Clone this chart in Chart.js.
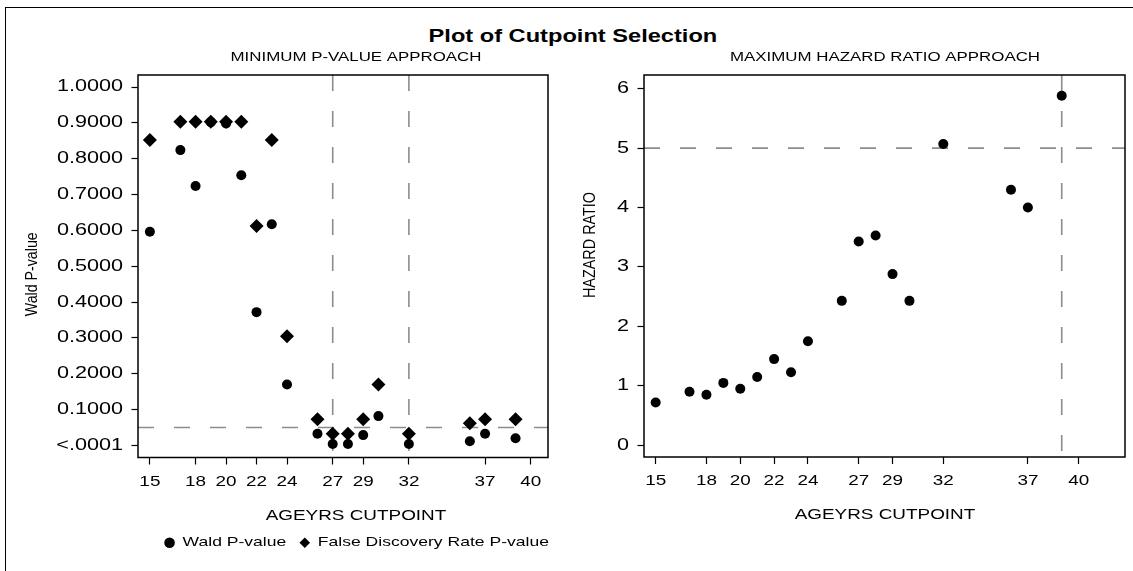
<!DOCTYPE html>
<html>
<head>
<meta charset="utf-8">
<script src="https://cdn.jsdelivr.net/npm/chart.js@4.4.0/dist/chart.umd.min.js"></script>
<style>
  html, body { margin:0; padding:0; background:#fff; overflow:hidden; width:1133px; height:571px; }
  #outer { position:absolute; left:5px; top:7px; width:1300px; height:700px; border-left:1px solid #000; border-top:1px solid #000; }
  #title { position:absolute; left:6px; top:27px; width:1133px; text-align:center; font:bold 17.5px "Liberation Sans", Arial, sans-serif; line-height:19px; color:#000; }
  #title span { display:inline-block; transform:scaleX(1.35); }
  .box { position:absolute; top:0; height:571px; }
</style>
</head>
<body>
<div id="outer"></div>
<div id="title"><span>Plot of Cutpoint Selection</span></div>
<div class="box" style="left:0px;width:712px"><canvas id="leftChart"></canvas></div>
<div class="box" style="left:580px;width:610px"><canvas id="rightChart"></canvas></div>
<script>
// ---------------- data ----------------
const cutpoints = [15, 17, 18, 19, 20, 21, 22, 23, 24, 26, 27, 28, 29, 30, 32, 36, 37, 39];
const waldP     = [0.596, 0.824, 0.724, 0.902, 0.898, 0.754, 0.372, 0.617, 0.170, 0.033, 0.004, 0.004, 0.029, 0.082, 0.004, 0.012, 0.033, 0.020];
const fdrP      = [0.852, 0.903, 0.903, 0.903, 0.903, 0.903, 0.612, 0.852, 0.305, 0.0735, 0.033, 0.033, 0.0735, 0.170, 0.033, 0.0623, 0.0735, 0.0735];
const hazardRatio = [0.72, 0.90, 0.85, 1.05, 0.95, 1.15, 1.45, 1.23, 1.75, 2.43, 3.43, 3.53, 2.88, 2.43, 5.07, 4.30, 4.00, 5.88];

const xTickValues = [15, 18, 20, 22, 24, 27, 29, 32, 37, 40];
const leftYTicks = [0, 0.1, 0.2, 0.3, 0.4, 0.5, 0.6, 0.7, 0.8, 0.9, 1.0];
const leftYTickLabels = ['<.0001', '0.1000', '0.2000', '0.3000', '0.4000', '0.5000', '0.6000', '0.7000', '0.8000', '0.9000', '1.0000'];
const rightYTicks = [0, 1, 2, 3, 4, 5, 6];
const rightYTickLabels = ['0', '1', '2', '3', '4', '5', '6'];

const leftRefX = [27, 32];
const leftRefY = [0.05];
const rightRefX = [39];
const rightRefY = [5];

const LX_MIN = 14.22, LX_MAX = 41.13, LY_MIN = -0.0335, LY_MAX = 1.0335;
const RX_MIN = 14.31, RX_MAX = 42.74, RY_MIN = -0.197, RY_MAX = 6.23;

// ---------------- styling helpers ----------------
const FONT = '"Liberation Sans", Arial, sans-serif';
const S = 1.35;           // horizontal text widening, as in the reference rendering
const S_ROT = 1.15;       // widening of rotated text thickness
const REF_COLOR = '#8c8c8c';

function widenText(canvas) {
  const ctx = canvas.getContext('2d');
  const fill = ctx.fillText, measure = ctx.measureText;
  ctx.fillText = function (t, x, y, mw) {
    const m = this.getTransform();
    const rotated = Math.abs(m.b) > 1e-6 || Math.abs(m.c) > 1e-6;
    this.save();
    this.translate(x, y);
    if (rotated) this.scale(1, S_ROT); else this.scale(S, 1);
    if (mw === undefined) fill.call(this, t, 0, 0); else fill.call(this, t, 0, 0, rotated ? mw : mw / S);
    this.restore();
  };
  ctx.measureText = function (t) {
    const m = measure.call(this, t);
    return {
      width: m.width * S,
      actualBoundingBoxLeft: m.actualBoundingBoxLeft * S,
      actualBoundingBoxRight: m.actualBoundingBoxRight * S,
      actualBoundingBoxAscent: m.actualBoundingBoxAscent,
      actualBoundingBoxDescent: m.actualBoundingBoxDescent,
      fontBoundingBoxAscent: m.fontBoundingBoxAscent,
      fontBoundingBoxDescent: m.fontBoundingBoxDescent
    };
  };
  return ctx;
}

const framePlugin = {
  id: 'frame',
  afterDatasetsDraw(chart) {
    const { ctx, chartArea: a } = chart;
    ctx.save();
    ctx.strokeStyle = '#000';
    ctx.lineWidth = 1.5;
    ctx.strokeRect(a.left, a.top, a.right - a.left, a.bottom - a.top);
    ctx.restore();
  }
};

// y-axis title, drawn beside the y scale (offset along the axis as in the reference)
const yTitlePlugin = {
  id: 'yTitle',
  afterDraw(chart, args, opts) {
    const s = chart.scales.y, ctx = chart.ctx;
    ctx.save();
    ctx.font = opts.size + 'px ' + FONT;
    ctx.fillStyle = '#000';
    ctx.textAlign = 'center';
    ctx.textBaseline = 'middle';
    ctx.translate(s.left + opts.x, (s.top + s.bottom) / 2 + opts.dy);
    ctx.rotate(-Math.PI / 2);
    ctx.fillText(opts.text, 0, 0);
    ctx.restore();
  }
};

function refLines(xs, ys, xmin, xmax, ymin, ymax) {
  const base = { type: 'line', label: 'ref', borderColor: REF_COLOR, borderWidth: 1.6, borderDash: [16, 20],
                 pointRadius: 0, pointHoverRadius: 0, showLine: true, fill: false, order: 5 };
  return xs.map(v => Object.assign({}, base, { data: [{ x: v, y: ymax }, { x: v, y: ymin }] }))
    .concat(ys.map(v => Object.assign({}, base, { data: [{ x: xmin, y: v }, { x: xmax, y: v }] })));
}

function xScale(min, max) {
  return {
    type: 'linear', min, max,
    afterBuildTicks: s => { s.ticks = xTickValues.map(v => ({ value: v })); },
    afterFit: s => { s.height = 36; },
    ticks: { font: { family: FONT, size: 14 }, color: '#000', padding: 9, autoSkip: false, maxRotation: 0, minRotation: 0,
             callback: v => String(v) },
    grid: { drawOnChartArea: false, drawTicks: true, tickLength: 7, tickColor: '#000', tickWidth: 1.2 },
    border: { display: false }
  };
}

function yScale(min, max, ticks, labels, width) {
  return {
    type: 'linear', min, max,
    afterBuildTicks: s => { s.ticks = ticks.map(v => ({ value: v })); },
    afterFit: s => { s.width = width; },
    ticks: { font: { family: FONT, size: 16 }, color: '#000', padding: 8.5, callback: (v, i) => labels[i] },
    grid: { drawOnChartArea: false, drawTicks: true, tickLength: 6.5, tickColor: '#000', tickWidth: 1.2 },
    border: { display: false },
    title: { display: false }
  };
}

function spacer(width) {
  return { type: 'linear', position: 'right', display: true, afterFit: s => { s.width = width; },
           ticks: { display: false }, grid: { display: false }, border: { display: false } };
}

// ---------------- left chart ----------------
new Chart(widenText(document.getElementById('leftChart')), {
  type: 'scatter',
  data: {
    datasets: [
      { label: 'Wald P-value', data: cutpoints.map((c, i) => ({ x: c, y: waldP[i] })),
        pointStyle: 'circle', pointRadius: 5, pointHoverRadius: 5, backgroundColor: '#000', borderColor: '#000', borderWidth: 0, order: 2 },
      { label: 'False Discovery Rate P-value', data: cutpoints.map((c, i) => ({ x: c, y: fdrP[i] })),
        pointStyle: 'rectRot', pointRadius: 7, pointHoverRadius: 7, backgroundColor: '#000', borderColor: '#000', borderWidth: 0, order: 1 }
    ].concat(refLines(leftRefX, leftRefY, LX_MIN, LX_MAX, LY_MIN, LY_MAX))
  },
  options: {
    responsive: true, maintainAspectRatio: false, animation: false, events: [],
    layout: { padding: { left: 0, right: 0, top: 0, bottom: 11.7 } },
    scales: {
      x: xScale(LX_MIN, LX_MAX),
      y: yScale(LY_MIN, LY_MAX, leftYTicks, leftYTickLabels, 138),
      spacer: spacer(164)
    },
    plugins: {
      tooltip: { enabled: false },
      yTitle: { text: 'Wald P-value', size: 14.2, x: 32, dy: 8 },
      title: { display: true, text: 'MINIMUM P-VALUE APPROACH', font: { family: FONT, size: 12.5, weight: 'normal' }, color: '#000',
               padding: { top: 50.5, bottom: 9.5 } },
      subtitle: { display: true, position: 'bottom', weight: 500, text: 'AGEYRS CUTPOINT', font: { family: FONT, size: 14 }, color: '#000',
                  padding: { top: 14, bottom: 0 } },
      legend: { display: true, position: 'bottom',
                labels: { usePointStyle: true, boxHeight: 7.5, padding: 12, font: { family: FONT, size: 13 }, color: '#000',
                          filter: it => it.datasetIndex < 2,
                          sort: (a, b) => a.datasetIndex - b.datasetIndex } }
    }
  },
  plugins: [framePlugin, yTitlePlugin]
});

// ---------------- right chart ----------------
new Chart(widenText(document.getElementById('rightChart')), {
  type: 'scatter',
  data: {
    datasets: [
      { label: 'Hazard Ratio', data: cutpoints.map((c, i) => ({ x: c, y: hazardRatio[i] })),
        pointStyle: 'circle', pointRadius: 5, pointHoverRadius: 5, backgroundColor: '#000', borderColor: '#000', borderWidth: 0, order: 1 }
    ].concat(refLines(rightRefX, rightRefY, RX_MIN, RX_MAX, RY_MIN, RY_MAX))
  },
  options: {
    responsive: true, maintainAspectRatio: false, animation: false, events: [],
    layout: { padding: { left: 0, right: 0, top: 0, bottom: 47.2 } },
    scales: {
      x: xScale(RX_MIN, RX_MAX),
      y: yScale(RY_MIN, RY_MAX, rightYTicks, rightYTickLabels, 64),
      spacer: spacer(65)
    },
    plugins: {
      tooltip: { enabled: false },
      legend: { display: false },
      yTitle: { text: 'HAZARD RATIO', size: 14.4, x: 10, dy: -21 },
      title: { display: true, text: 'MAXIMUM HAZARD RATIO APPROACH', font: { family: FONT, size: 12.5, weight: 'normal' }, color: '#000',
               padding: { top: 50.5, bottom: 9.5 } },
      subtitle: { display: true, position: 'bottom', weight: 500, text: 'AGEYRS CUTPOINT', font: { family: FONT, size: 14 }, color: '#000',
                  padding: { top: 14, bottom: 0 } }
    }
  },
  plugins: [framePlugin, yTitlePlugin]
});
</script>
</body>
</html>
